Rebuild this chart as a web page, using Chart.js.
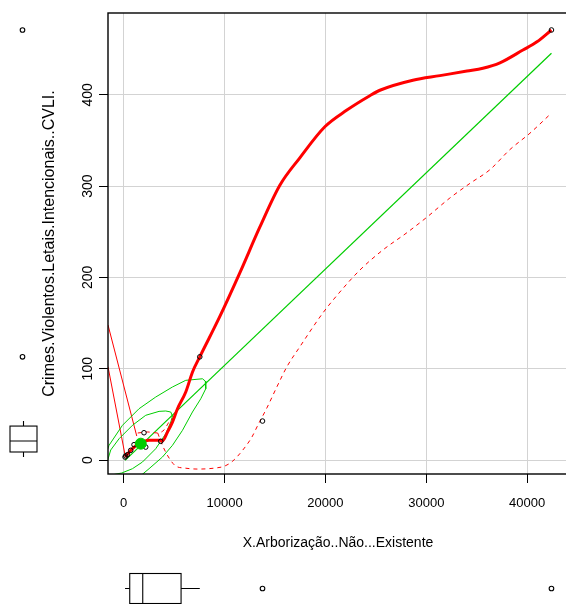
<!DOCTYPE html>
<html>
<head>
<meta charset="utf-8">
<script src="https://cdn.jsdelivr.net/npm/chart.js@4.4.1/dist/chart.umd.min.js"></script>
<style>
  html, body { margin: 0; padding: 0; background: #fff; overflow: hidden; }
  #wrap { width: 600px; height: 604px; }
</style>
</head>
<body>
<div id="wrap"><canvas id="chart" width="600" height="604"></canvas></div>
<script>
// axis ranges and ticks
const xRange = [-1560, 44050];
const yRange = [-15.3, 489.6];
const xTicks = [0, 10000, 20000, 30000, 40000];
const yTicks = [0, 100, 200, 300, 400];

// observations
const pointX = [130, 200, 360, 690, 1020, 2010, 2180, 3670, 7540, 13760, 42410];
const pointY = [3.3, 4.5, 5.8, 10.6, 16.8, 29.9, 14.2, 20.5, 113, 42.7, 471];

// robust centre of the data ellipses
const centreX = [1690];
const centreY = [17.9];

// least squares line
const regX = [130, 42410];
const regY = [-0.4, 445.5];

// loess smoother
const loessX = [130, 860, 1520, 2510, 3500, 3840, 4340, 4830, 5330, 6150, 6820, 7540, 9520, 11510, 13490,
  15480, 17460, 19940, 22090, 24400, 25400, 28670, 31350, 34030, 35610, 37300, 39580, 40970, 42410];
const loessY = [3.3, 12.4, 17.9, 21.6, 21.6, 21, 30.7, 41.6, 56.2, 74.5, 96.4, 113, 157, 205, 255,
  301, 331, 365, 383, 399, 405, 416, 421, 426, 429, 435, 449, 458, 471];

// conditional spread (dashed)
const spreadLowX = [3370, 3870, 4560, 5160, 6050, 7340, 9030, 10020, 10810, 11810, 12700, 13290, 14190,
  15180, 16170, 17460, 19740, 21430, 23410, 25690, 28080, 30060, 32340, 34330, 36310, 38290, 40280, 42410];
const spreadLowY = [29.6, 15.3, 1.1, -6.6, -8.8, -9.9, -8.8, -6.6, -1.1, 11, 25, 38, 57,
  80, 102, 124, 161, 184, 208, 230, 249, 266, 287, 303, 318, 340, 358, 380];
const spreadUpX = [1390, 2380, 3370, 4000, 4490, 4990];
const spreadUpY = [29.6, 30.7, 29.6, 33, 41.6, 47];

// stray thin red segments from the left edge
const thinAX = [-1560, 1290];
const thinAY = [147.9, 26.3];
const thinBX = [-1560, 150];
const thinBY = [102.2, 4.4];

// data ellipses (50% and 95%), traced where visible
const ell50X = [-1617, -1290, -466, 863, 2182, 3502, 4166, 4662, 4831, 4662, 4166, 3174, 1855, 863, -198, -992];
const ell50Y = [-1.1, 11, 23.3, 38, 49, 53.3, 53.7, 52.6, 48.2, 41.6, 28.8, 12.4, -2.2, -9.5, -14.2, -15.9];
const ell95X = [-1600, -1458, -129, 1518, 3174, 4831, 6150, 7807, 8085, 8134, 7638, 6815, 5823, 4831, 3839, 2510, 1700];
const ell95Y = [11.5, 16.1, 38, 56.2, 69, 80, 87.3, 89, 86.5, 78.1, 67.1, 52.6, 32.5, 16.1, 3.3, -9.5, -17];

// marginal boxplots: whisker low, Q1, median, Q3, whisker high
const xBox = [130, 595, 1885, 5685, 7540];
const xOutliers = [13760, 42410];
const yBox = [3.3, 8.8, 20.8, 37.2, 42.7];
const yOutliers = [113, 471];

const RED = "#ff0000";
const GREEN = "#00cd00";
const FAMILY = "'Liberation Sans', Arial, sans-serif";

const pair = (xs, ys) => xs.map((x, i) => ({ x: x, y: ys[i] }));

const lineSet = (xs, ys, color, width, dash, smooth) => ({
  data: pair(xs, ys),
  showLine: true,
  borderColor: color,
  borderWidth: width,
  borderDash: dash || [],
  pointRadius: 0,
  fill: false,
  cubicInterpolationMode: smooth ? "monotone" : "default",
  tension: 0,
});

// boxplots, frame and rotated y labels drawn straight on the canvas
const extras = {
  id: "extras",
  afterDraw(chart) {
    const ctx = chart.ctx;
    const xs = chart.scales.x;
    const ys = chart.scales.y;
    const a = chart.chartArea;
    ctx.save();

    ctx.strokeStyle = "#000";
    ctx.lineWidth = 1.4;
    ctx.strokeRect(a.left, a.top, a.right - a.left, a.bottom - a.top);

    ctx.fillStyle = "#000";
    ctx.font = "14px " + FAMILY;
    ctx.textAlign = "center";
    ctx.textBaseline = "middle";
    yTicks.forEach((v) => {
      ctx.save();
      ctx.translate(88, ys.getPixelForValue(v));
      ctx.rotate(-Math.PI / 2);
      ctx.fillText(String(v), 0, 0);
      ctx.restore();
    });

    ctx.lineWidth = 1.1;
    // x boxplot under the axis title
    const q = xBox.map((v) => xs.getPixelForValue(v));
    const yc = 588.5, hh = 15;
    ctx.beginPath();
    ctx.moveTo(q[0], yc); ctx.lineTo(q[1], yc);
    ctx.moveTo(q[3], yc); ctx.lineTo(q[4], yc);
    ctx.moveTo(q[2], yc - hh); ctx.lineTo(q[2], yc + hh);
    ctx.stroke();
    ctx.strokeRect(q[1], yc - hh, q[3] - q[1], hh * 2);
    xOutliers.forEach((v) => {
      ctx.beginPath();
      ctx.arc(xs.getPixelForValue(v), yc, 2.3, 0, Math.PI * 2);
      ctx.stroke();
    });

    // y boxplot on the far left
    const p = yBox.map((v) => ys.getPixelForValue(v));
    const xc = 23.5, hw = 13.5;
    ctx.beginPath();
    ctx.moveTo(xc, p[0]); ctx.lineTo(xc, p[1]);
    ctx.moveTo(xc, p[3]); ctx.lineTo(xc, p[4]);
    ctx.moveTo(xc - hw, p[2]); ctx.lineTo(xc + hw, p[2]);
    ctx.stroke();
    ctx.strokeRect(xc - hw, p[3], hw * 2, p[1] - p[3]);
    yOutliers.forEach((v) => {
      ctx.beginPath();
      ctx.arc(xc - 1, ys.getPixelForValue(v), 2.3, 0, Math.PI * 2);
      ctx.stroke();
    });

    ctx.restore();
  },
};

new Chart(document.getElementById("chart"), {
  type: "scatter",
  data: {
    datasets: [
      {
        data: pair(centreX, centreY),
        pointRadius: 5.5,
        pointBackgroundColor: GREEN,
        pointBorderColor: GREEN,
      },
      {
        data: pair(pointX, pointY),
        pointRadius: 2.3,
        pointBorderWidth: 1,
        pointBorderColor: "#000",
        pointBackgroundColor: "rgba(0,0,0,0)",
      },
      lineSet(loessX, loessY, RED, 3, null, true),
      lineSet(spreadLowX, spreadLowY, RED, 1, [4, 4], true),
      lineSet(spreadUpX, spreadUpY, RED, 1, [4, 4], true),
      lineSet(regX, regY, GREEN, 1.2),
      lineSet(ell50X, ell50Y, GREEN, 1),
      lineSet(ell95X, ell95Y, GREEN, 1),
      lineSet(thinAX, thinAY, RED, 1),
      lineSet(thinBX, thinBY, RED, 1),
    ],
  },
  options: {
    responsive: false,
    animation: false,
    layout: { padding: { left: 0, top: 13, right: 32, bottom: 0 } },
    plugins: { legend: { display: false }, tooltip: { enabled: false } },
    scales: {
      x: {
        type: "linear",
        min: xRange[0],
        max: xRange[1],
        afterBuildTicks: (s) => { s.ticks = xTicks.map((v) => ({ value: v })); },
        afterFit: (s) => { s.height = 130; },
        grid: { color: "#d3d3d3", lineWidth: 1, tickColor: "#000", tickLength: 9 },
        border: { display: false },
        ticks: {
          color: "#000",
          font: { family: FAMILY, size: 13 },
          padding: 13,
          maxRotation: 0,
          autoSkip: false,
          callback: (v) => String(v),
        },
        title: {
          display: true,
          text: "X.Arborização..Não...Existente",
          color: "#000",
          font: { family: FAMILY, size: 14 },
          padding: { top: 0, bottom: 52.6 },
        },
      },
      y: {
        type: "linear",
        min: yRange[0],
        max: yRange[1],
        afterBuildTicks: (s) => { s.ticks = yTicks.map((v) => ({ value: v })); },
        afterFit: (s) => { s.width = 108; },
        grid: { color: "#d3d3d3", lineWidth: 1, tickColor: "#000", tickLength: 9 },
        border: { display: false },
        ticks: { display: false },
        title: {
          display: true,
          text: "Crimes.Violentos.Letais.Intencionais..CVLI.",
          color: "#000",
          font: { family: FAMILY, size: 16 },
          padding: { top: 40.4, bottom: 0 },
        },
      },
    },
  },
  plugins: [extras],
});
</script>
</body>
</html>
